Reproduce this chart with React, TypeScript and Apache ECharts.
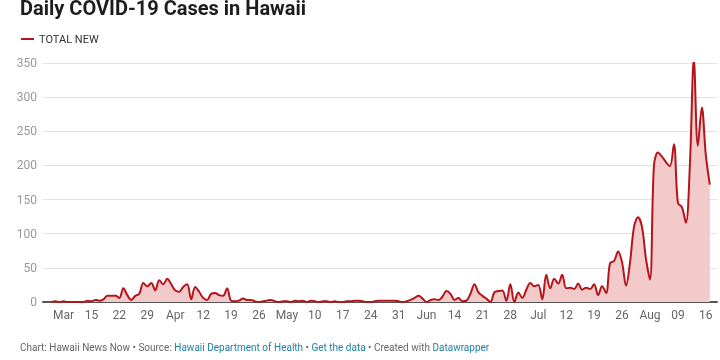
import React, { useEffect, useRef } from "react";
import * as echarts from "echarts";

// Daily new cases, starting Mar 5 (3 days before the first tick, Mar 8)
const FIRST_DAY_OFFSET = -3;
const march = [0, 1, 0, 1, 0, 0, 0, 0, 0, 2, 1, 3, 2, 4, 9, 9, 9, 6, 20, 10, 3, 9, 12, 28, 23, 28, 17];
const april = [32, 26, 34, 26, 17, 15, 22, 26, 4, 22, 15, 6, 3, 12, 13, 10, 9, 20, 2, 1, 2, 5, 3, 3, 1, 0, 1, 2, 3, 1];
const may = [0, 1, 1, 0, 2, 1, 2, 0, 2, 1, 0, 1, 1, 0, 1, 0, 0, 1, 1, 2, 2, 1, 0, 0, 1, 2, 2, 2, 2, 2, 1];
const june = [0, 1, 3, 6, 9, 5, 0, 3, 4, 3, 8, 16, 12, 3, 6, 1, 2, 12, 26, 14, 9, 5, 0, 14, 16, 17, 2, 26, 0, 14];
const july = [6, 18, 28, 23, 25, 4, 40, 20, 34, 27, 40, 20, 21, 19, 27, 18, 21, 19, 26, 10, 23, 13, 57, 60, 74, 58, 24, 58, 110, 124, 110];
const august = [63, 33, 200, 219, 213, 205, 199, 231, 145, 139, 116, 200, 355, 229, 285, 215, 172];

// Weekly ticks (Sundays) starting Mar 8
const tickLabels = ["Mar", "15", "22", "29", "Apr", "12", "19", "26", "May", "10", "17", "24", "31", "Jun", "14", "21", "28", "Jul", "12", "19", "26", "Aug", "09", "16"];
const yTicks = [0, 50, 100, 150, 200, 250, 300, 350];

const LINE = "#b5141b";
const FONT = "Roboto";

export default function App() {
  const ref = useRef<HTMLDivElement>(null);
  useEffect(() => {
    if (!ref.current) return;
    const chart = echarts.init(ref.current, null, { renderer: "svg" });
    const all = [...march, ...april, ...may, ...june, ...july, ...august];
    const data = all.map((v, i) => [i + FIRST_DAY_OFFSET, v]);
    const tickValues = tickLabels.map((_, i) => i * 7);
    chart.setOption({
      animation: false,
      grid: { left: 43, right: 3, top: 63, bottom: 58 },
      xAxis: {
        type: "value",
        min: -5.14,
        max: 163.8,
        splitLine: { show: false },
        axisTick: { show: false },
        axisLine: { show: true, onZero: false, lineStyle: { color: "#555", width: 2 } },
        axisLabel: {
          customValues: tickValues,
          formatter: (v: number) => tickLabels[Math.round(v / 7)] ?? "",
          color: "#666",
          fontFamily: FONT,
          fontSize: 12,
          margin: 7,
        },
      },
      yAxis: {
        type: "value",
        min: yTicks[0],
        max: yTicks[yTicks.length - 1],
        interval: 50,
        axisLine: { show: false },
        axisTick: { show: false },
        splitLine: { lineStyle: { color: "#e2e2e2", width: 1 } },
        axisLabel: { color: "#999", fontFamily: FONT, fontSize: 12, margin: 6 },
      },
      series: [
        {
          type: "line",
          data,
          smooth: 0.35,
          symbol: "none",
          lineStyle: { color: LINE, width: 2 },
          areaStyle: { color: "#f2caca", opacity: 1 },
          z: 3,
        },
      ],
      graphic: [
        {
          type: "text",
          x: 20,
          y: 8,
          style: { text: "Daily COVID-19 Cases in Hawaii", font: `bold 20px ${FONT}`, fill: "#1d1d1d", align: "left", verticalAlign: "middle" },
        },
        { type: "line", shape: { x1: 21, y1: 39, x2: 34, y2: 39 }, style: { stroke: LINE, lineWidth: 2 } },
        {
          type: "text",
          x: 39,
          y: 39,
          style: { text: "TOTAL NEW", font: `11px ${FONT}`, fill: "#333", align: "left", verticalAlign: "middle" },
        },
        {
          type: "text",
          x: 20,
          y: 347,
          style: {
            text: "{g|Chart: Hawaii News Now • Source: }{b|Hawaii Department of Health}{g| • }{b|Get the data}{g| • Created with }{b|Datawrapper}",
            font: `10px ${FONT}`,
            align: "left",
            verticalAlign: "middle",
            rich: {
              g: { fill: "#666", font: `10px ${FONT}` },
              b: { fill: "#1d81a2", font: `10px ${FONT}` },
            },
          },
        },
      ],
    });
    return () => chart.dispose();
  }, []);
  return <div ref={ref} style={{ position: "fixed", left: 0, top: 0, width: 720, height: 360 }} />;
}
